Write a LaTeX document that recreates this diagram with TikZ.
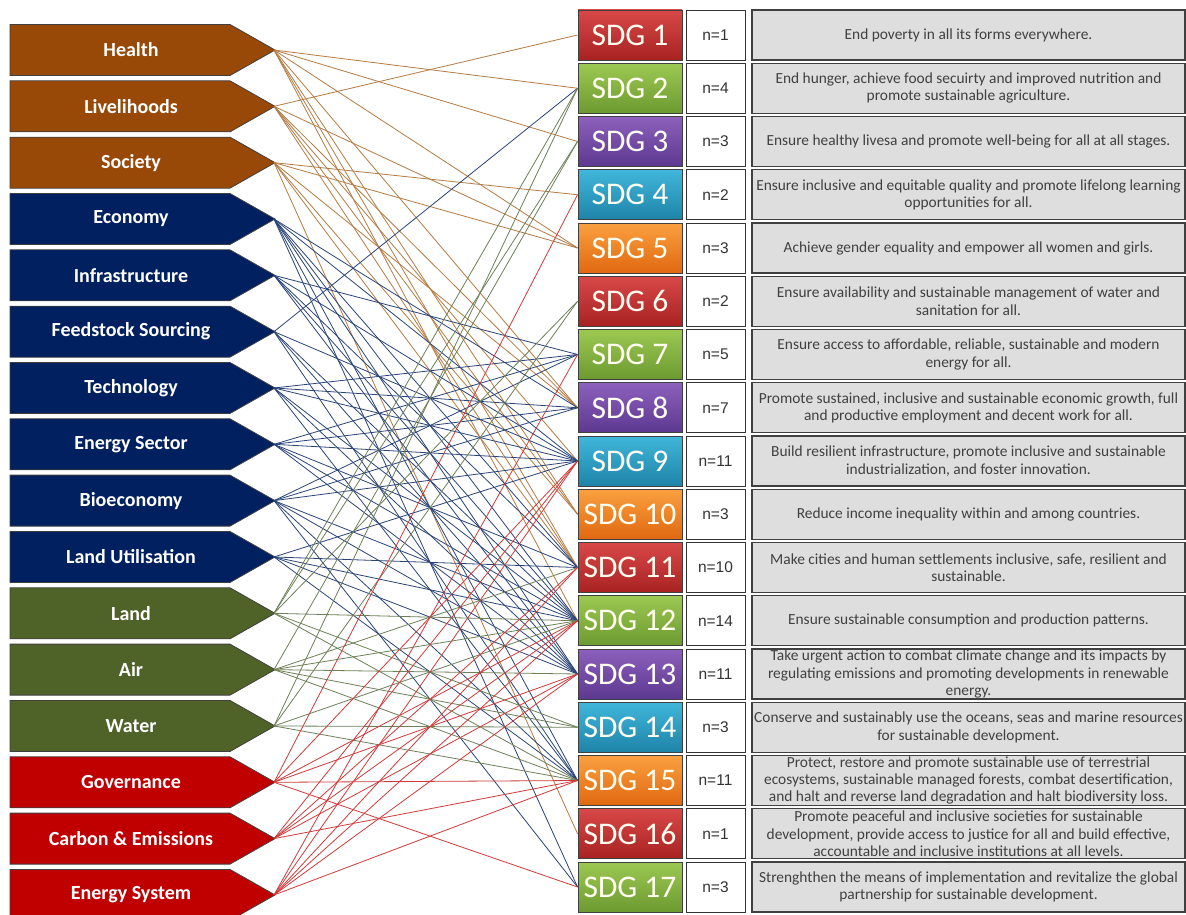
\documentclass[tikz,border=0pt]{standalone}
\usepackage{fontspec}
\setmainfont{Carlito}
\newfontfamily\arialf{Liberation Sans}
\definecolor{brownfill}{HTML}{984807}
\definecolor{navyfill}{HTML}{002060}
\definecolor{olivefill}{HTML}{4F6228}
\definecolor{redfill}{HTML}{C00000}
\definecolor{brownln}{HTML}{B47C44}
\definecolor{navyln}{HTML}{2A4478}
\definecolor{oliveln}{HTML}{6E8058}
\definecolor{redln}{HTML}{D03A3A}
\definecolor{descgray}{HTML}{DEDEDE}
\definecolor{rT}{HTML}{D84848}\definecolor{rB}{HTML}{A82222}
\definecolor{gT}{HTML}{9CC852}\definecolor{gB}{HTML}{6C9A30}
\definecolor{pT}{HTML}{8C60BC}\definecolor{pB}{HTML}{5C3890}
\definecolor{tT}{HTML}{40B6DA}\definecolor{tB}{HTML}{1E84A8}
\definecolor{oT}{HTML}{FAA040}\definecolor{oB}{HTML}{E06810}
\begin{document}
\begin{tikzpicture}[x=1pt,y=-1pt,
  lab/.style={font=\bfseries\fontsize{20}{22}\selectfont, text=white, inner sep=0pt},
  sdgbox/.style={draw=black!75, line width=0.9pt, minimum width=104pt, minimum height=50pt, inner sep=0pt, text=white!94!yellow, font=\fontsize{31.5}{32}\selectfont},
  nbox/.style={draw=black!80, line width=0.9pt, fill=white, minimum width=59pt, minimum height=50pt, inner sep=0pt, font=\arialf\fontsize{15.5}{17}\selectfont, text=black!80},
  desc/.style={draw=black!75, line width=1.2pt, fill=descgray, minimum width=433pt, minimum height=50pt, inner sep=0pt, align=center, font=\fontsize{15.4}{17.3}\selectfont, text=black!75},
  arrowshape/.style={draw=black!75, line width=0.8pt},
  cb/.style={draw=brownln, line width=0.8pt},
  cn/.style={draw=navyln, line width=0.8pt},
  co/.style={draw=oliveln, line width=0.8pt},
  cr/.style={draw=redln, line width=0.8pt},
  sr/.style={top color=rT, bottom color=rB},
  sg/.style={top color=gT, bottom color=gB},
  sp/.style={top color=pT, bottom color=pB},
  st/.style={top color=tT, bottom color=tB},
  so/.style={top color=oT, bottom color=oB},
]
\useasboundingbox (0,0) rectangle (1186,915);
\fill[white] (0,0) rectangle (1186,915);

% left arrows
\foreach \i/\name/\fc in {1/Health/brownfill,2/Livelihoods/brownfill,3/Society/brownfill,
  4/Economy/navyfill,5/Infrastructure/navyfill,6/Feedstock Sourcing/navyfill,7/Technology/navyfill,
  8/Energy Sector/navyfill,9/Bioeconomy/navyfill,10/Land Utilisation/navyfill,
  11/Land/olivefill,12/Air/olivefill,13/Water/olivefill,
  14/Governance/redfill,15/Carbon \& Emissions/redfill,16/Energy System/redfill}{
  \pgfmathsetmacro{\yy}{50+(\i-1)*56.33}
  \draw[arrowshape, fill=\fc] (10,\yy-25.5) -- (230,\yy-25.5) -- (275,\yy) -- (230,\yy+25.5) -- (10,\yy+25.5) -- cycle;
  \node[lab] (a\i) at (131,\yy) {\name};
  \coordinate (t\i) at (274,\yy);
}

% SDG rows
\foreach \i/\sty/\n/\txt in {
 1/sr/1/{End poverty in all its forms everywhere.},
 2/sg/4/{End hunger, achieve food secuirty and improved nutrition and\\promote sustainable agriculture.},
 3/sp/3/{Ensure healthy livesa and promote well-being for all at all stages.},
 4/st/2/{Ensure inclusive and equitable quality and promote lifelong learning\\opportunities for all.},
 5/so/3/{Achieve gender equality and empower all women and girls.},
 6/sr/2/{Ensure availability and sustainable management of water and\\sanitation for all.},
 7/sg/5/{Ensure access to affordable, reliable, sustainable and modern\\energy for all.},
 8/sp/7/{Promote sustained, inclusive and sustainable economic growth, full\\and productive employment and decent work for all.},
 9/st/11/{Build resilient infrastructure, promote inclusive and sustainable\\industrialization, and foster innovation.},
 10/so/3/{Reduce income inequality within and among countries.},
 11/sr/10/{Make cities and human settlements inclusive, safe, resilient and\\sustainable.},
 12/sg/14/{Ensure sustainable consumption and production patterns.},
 13/sp/11/{Take urgent action to combat climate change and its impacts by\\regulating emissions and promoting developments in renewable\\energy.},
 14/st/3/{Conserve and sustainably use the oceans, seas and marine resources\\for sustainable development.},
 15/so/11/{Protect, restore and promote sustainable use of terrestrial\\ecosystems, sustainable managed forests, combat desertification,\\and halt and reverse land degradation and halt biodiversity loss.},
 16/sr/1/{Promote peaceful and inclusive societies for sustainable\\development, provide access to justice for all and build effective,\\accountable and inclusive institutions at all levels.},
 17/sg/3/{Strenghthen the means of implementation and revitalize the global\\partnership for sustainable development.}}{
  \pgfmathsetmacro{\yy}{35+(\i-1)*53.25}
  \node[sdgbox, \sty] (s\i) at (630,\yy) {SDG \i};
  \node[nbox] (n\i) at (715.5,\yy) {n=\n};
  \node[desc] (d\i) at (968.5,\yy) {\txt};
}

% connectors
\foreach \s/\t/\c in {
 1/2/cb,1/3/cb,1/5/cb,1/8/cb,1/10/cb,1/11/cb,1/12/cb,
 2/1/cb,2/5/cb,2/8/cb,2/9/cb,2/10/cb,2/11/cb,
 3/4/cb,3/5/cb,3/8/cb,3/10/cb,3/11/cb,3/16/cb,
 4/8/cn,4/9/cn,4/11/cn,4/12/cn,4/13/cn,4/15/cn,4/17/cn,
 5/7/cn,5/9/cn,5/11/cn,5/12/cn,5/13/cn,
 6/2/cn,6/9/cn,6/12/cn,6/13/cn,6/15/cn,
 7/7/cn,7/8/cn,7/9/cn,7/12/cn,7/13/cn,7/15/cn,
 8/7/cn,8/8/cn,8/9/cn,8/11/cn,8/12/cn,8/13/cn,
 9/7/cn,9/8/cn,9/9/cn,9/12/cn,9/13/cn,9/15/cn,9/17/cn,
 10/9/cn,10/11/cn,10/12/cn,10/13/cn,10/15/cn,
 11/2/co,11/3/co,11/6/co,11/12/co,11/14/co,11/15/co,
 12/3/co,12/11/co,12/12/co,12/13/co,12/14/co,12/15/co,
 13/2/co,13/6/co,13/12/co,13/14/co,13/15/co,
 14/4/cr,14/9/cr,14/12/cr,14/13/cr,14/15/cr,14/17/cr,
 15/9/cr,15/11/cr,15/12/cr,15/13/cr,15/15/cr,
 16/7/cr,16/9/cr,16/11/cr,16/12/cr,16/13/cr,16/15/cr}{
  \draw[\c] (t\s) -- (s\t.west);
}
\end{tikzpicture}
\end{document}
